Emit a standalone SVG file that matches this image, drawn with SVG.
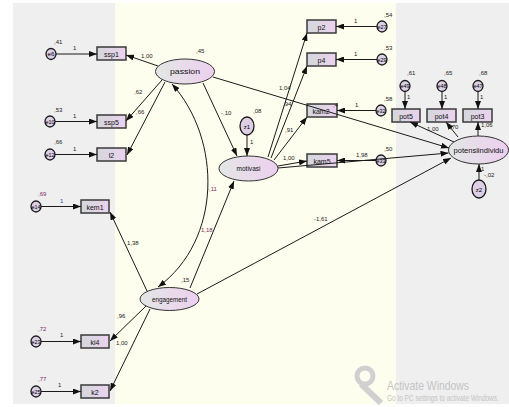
<svg xmlns="http://www.w3.org/2000/svg" width="509" height="407" viewBox="0 0 509 407">
<defs>
<linearGradient id="gBox" x1="0" x2="1" y1="0" y2="0"><stop offset="0" stop-color="#d4d7dc"/><stop offset="1" stop-color="#ebd2ee"/></linearGradient>
<linearGradient id="gEll" x1="0" x2="1" y1="0" y2="0"><stop offset="0" stop-color="#e3e7e5"/><stop offset="1" stop-color="#edcfef"/></linearGradient>
<marker id="ah" markerUnits="userSpaceOnUse" markerWidth="8" markerHeight="6" refX="8" refY="3" orient="auto-start-reverse"><path d="M0,0 L8,3 L0,6 z" fill="#111"/></marker>
<style>
.box{fill:url(#gBox);stroke:#3a3a3a;stroke-width:1.5}
.ell{fill:url(#gEll);stroke:#333;stroke-width:1}
.err{fill:#dccfe6;stroke:#1a1a1a;stroke-width:1.3}
.c{fill:none;stroke:#1a1a1a;stroke-width:1;marker-end:url(#ah)}
.t{font-family:"Liberation Sans",Arial,sans-serif;font-size:7px;fill:#111;text-anchor:middle}
.et{font-family:"Liberation Sans",Arial,sans-serif;font-size:6px;fill:#000;text-anchor:middle}
.n{font-family:"Liberation Sans",Arial,sans-serif;font-size:6px;fill:#222}
.m{fill:#7a2a5e}
.b{fill:#2a48a8}
.w{font-family:"Liberation Sans",Arial,sans-serif;fill:#c4c4c4}
</style>
</defs>
<rect x="0" y="0" width="509" height="407" fill="#ffffff"/>
<rect x="13" y="3" width="102" height="401" fill="#efefef"/>
<rect x="115" y="3" width="281" height="401" fill="#fefeee"/>
<rect x="396" y="3" width="113" height="401" fill="#efefef"/>

<g id="watermark">
<circle cx="365" cy="376" r="8" fill="none" stroke="#d0d0d0" stroke-width="5"/>
<path d="M361,384 L381,403" stroke="#d0d0d0" stroke-width="6" fill="none"/>
<text class="w" transform="translate(387,390) scale(0.8,1)" font-size="13">Activate Windows</text>
<text class="w" transform="translate(387,401) scale(0.72,1)" font-size="9">Go to PC settings to activate Windows.</text>
</g>

<g id="ssp1"><rect class="box" x="97" y="47" width="29" height="13"/><text class="t" x="111.5" y="56.5">ssp1</text></g>
<g id="ssp5"><rect class="box" x="97" y="115" width="29" height="13"/><text class="t" x="111.5" y="124.5">ssp5</text></g>
<g id="l2"><rect class="box" x="97" y="148" width="29" height="13"/><text class="t" x="111.5" y="157.5">l2</text></g>
<g id="kem1"><rect class="box" x="81" y="200" width="28" height="13"/><text class="t" x="95" y="209.5">kem1</text></g>
<g id="ki4"><rect class="box" x="81" y="335" width="28" height="13"/><text class="t" x="95" y="344.5">ki4</text></g>
<g id="k2"><rect class="box" x="81" y="385" width="28" height="13"/><text class="t" x="95" y="394.5">k2</text></g>
<g id="p2"><rect class="box" x="307" y="20" width="29" height="13"/><text class="t" x="321.5" y="29.5">p2</text></g>
<g id="p4"><rect class="box" x="307" y="53" width="29" height="13"/><text class="t" x="321.5" y="62.5">p4</text></g>
<g id="kam2"><rect class="box" x="307" y="104" width="30" height="13"/><text class="t" x="321" y="113.5">kam2</text></g>
<g id="kam5"><rect class="box" x="307" y="154" width="30" height="13"/><text class="t" x="322" y="163.5">kam5</text></g>
<g id="pot5"><rect class="box" x="392" y="109" width="28" height="13"/><text class="t" x="406" y="118.5">pot5</text></g>
<g id="pot4"><rect class="box" x="427" y="109" width="29" height="13"/><text class="t" x="441.5" y="118.5">pot4</text></g>
<g id="pot3"><rect class="box" x="463" y="109" width="29" height="13"/><text class="t" x="477.5" y="118.5">pot3</text></g>

<g id="passion"><ellipse class="ell" cx="185" cy="71.5" rx="29.5" ry="12.5"/><text class="t" x="185" y="74" font-size="8" textLength="30" lengthAdjust="spacingAndGlyphs">passion</text></g>
<g id="motivasi"><ellipse class="ell" cx="248.5" cy="168.5" rx="29.5" ry="12.5"/><text class="t" x="248.5" y="171" font-size="8" textLength="24" lengthAdjust="spacingAndGlyphs">motivasi</text></g>
<g id="engagement"><ellipse class="ell" cx="169.5" cy="299" rx="29.5" ry="11.5"/><text class="t" x="169.5" y="301.5" font-size="8" textLength="35" lengthAdjust="spacingAndGlyphs">engagement</text></g>
<g id="potensiindividu"><ellipse class="ell" cx="478.5" cy="150" rx="30" ry="14"/><text class="t" x="478.5" y="152.5" font-size="8" textLength="50" lengthAdjust="spacingAndGlyphs">potensiindividu</text></g>

<g id="z1"><ellipse class="err" cx="247" cy="126" rx="7" ry="9"/><text class="et" x="247" y="128.5" font-size="7">z1</text></g>
<g id="z2"><ellipse class="err" cx="479" cy="189" rx="7" ry="9"/><text class="et" x="479" y="191.5" font-size="7">z2</text></g>

<g id="e6"><ellipse class="err" cx="51" cy="54" rx="5" ry="5.5"/><text class="et" x="51" y="56" textLength="7" lengthAdjust="spacingAndGlyphs">e6</text></g>
<g id="e10"><ellipse class="err" cx="50" cy="121.5" rx="5" ry="5.5"/><text class="et" x="50" y="123.5" textLength="9" lengthAdjust="spacingAndGlyphs">e10</text></g>
<g id="e12"><ellipse class="err" cx="50" cy="154.5" rx="5" ry="5.5"/><text class="et" x="50" y="156.5" textLength="9" lengthAdjust="spacingAndGlyphs">e12</text></g>
<g id="e14"><ellipse class="err" cx="36" cy="206.5" rx="5" ry="5.5"/><text class="et" x="36" y="208.5" textLength="9" lengthAdjust="spacingAndGlyphs">e14</text></g>
<g id="e23"><ellipse class="err" cx="36" cy="341.5" rx="5" ry="5.5"/><text class="et" x="36" y="343.5" textLength="9" lengthAdjust="spacingAndGlyphs">e23</text></g>
<g id="e25"><ellipse class="err" cx="36" cy="391.5" rx="5" ry="5.5"/><text class="et" x="36" y="393.5" textLength="9" lengthAdjust="spacingAndGlyphs">e25</text></g>
<g id="e27"><ellipse class="err" cx="382" cy="26.5" rx="5" ry="5.5"/><text class="et" x="382" y="28.5" textLength="9" lengthAdjust="spacingAndGlyphs">e27</text></g>
<g id="e29"><ellipse class="err" cx="382" cy="59.5" rx="5" ry="5.5"/><text class="et" x="382" y="61.5" textLength="9" lengthAdjust="spacingAndGlyphs">e29</text></g>
<g id="e32"><ellipse class="err" cx="381" cy="110.5" rx="5" ry="5.5"/><text class="et" x="381" y="112.5" textLength="9" lengthAdjust="spacingAndGlyphs">e32</text></g>
<g id="e33"><ellipse class="err" cx="381" cy="160.5" rx="5" ry="5.5"/><text class="et" x="381" y="162.5" textLength="9" lengthAdjust="spacingAndGlyphs">e33</text></g>
<g id="e49"><ellipse class="err" cx="405" cy="86" rx="5" ry="5.5"/><text class="et" x="405" y="88" textLength="9" lengthAdjust="spacingAndGlyphs">e49</text></g>
<g id="e48"><ellipse class="err" cx="442" cy="86" rx="5" ry="5.5"/><text class="et" x="442" y="88" textLength="9" lengthAdjust="spacingAndGlyphs">e48</text></g>
<g id="e47"><ellipse class="err" cx="478" cy="86" rx="5" ry="5.5"/><text class="et" x="478" y="88" textLength="9" lengthAdjust="spacingAndGlyphs">e47</text></g>

<g id="connectors">
<line class="c" x1="56" y1="54" x2="97" y2="54"/>
<line class="c" x1="55" y1="121.5" x2="97" y2="121.5"/>
<line class="c" x1="55" y1="154.5" x2="97" y2="154.5"/>
<line class="c" x1="41" y1="206.5" x2="81" y2="206.5"/>
<line class="c" x1="41" y1="341.5" x2="81" y2="341.5"/>
<line class="c" x1="41" y1="391.5" x2="81" y2="391.5"/>
<line class="c" x1="377" y1="26.5" x2="336" y2="26.5"/>
<line class="c" x1="377" y1="59.5" x2="336" y2="59.5"/>
<line class="c" x1="376" y1="110.5" x2="337" y2="110.5"/>
<line class="c" x1="376" y1="160.5" x2="337" y2="160.5"/>
<line class="c" x1="405" y1="91.5" x2="405" y2="109"/>
<line class="c" x1="442" y1="91.5" x2="442" y2="109"/>
<line class="c" x1="478" y1="91.5" x2="478" y2="109"/>
<line class="c" x1="247" y1="135" x2="247" y2="156"/>
<line class="c" x1="479" y1="180" x2="479" y2="164"/>

<line class="c" x1="158" y1="66" x2="126" y2="55"/>
<line class="c" x1="162" y1="80" x2="126" y2="121"/>
<line class="c" x1="165" y1="82" x2="127" y2="155"/>
<line class="c" x1="203" y1="83" x2="237" y2="156"/>
<line class="c" x1="213" y1="77" x2="449" y2="148"/>
<line class="c" x1="268" y1="157" x2="307" y2="33"/>
<line class="c" x1="271" y1="158" x2="307" y2="66"/>
<line class="c" x1="274" y1="160" x2="307" y2="117"/>
<line class="c" x1="278" y1="166" x2="307" y2="161"/>
<line class="c" x1="278" y1="168" x2="448.5" y2="153"/>
<line class="c" x1="147" y1="291" x2="110" y2="212"/>
<line class="c" x1="146" y1="306" x2="110" y2="341"/>
<line class="c" x1="150" y1="309" x2="110" y2="391"/>
<line class="c" x1="190" y1="288" x2="234" y2="181"/>
<line class="c" x1="197" y1="294" x2="451" y2="158"/>
<line class="c" x1="454" y1="142" x2="410" y2="122"/>
<line class="c" x1="458" y1="137" x2="446" y2="122"/>
<line class="c" x1="478" y1="136" x2="478" y2="122"/>
<path class="c" d="M172,84 C222,140 222,240 158,287" style="marker-start:url(#ah)"/>

<text class="n" x="54" y="44">,41</text>
<text class="n" x="54" y="112">,53</text>
<text class="n" x="54" y="144">,66</text>
<text class="n" x="73" y="50">1</text>
<text class="n" x="73" y="118">1</text>
<text class="n" x="73" y="151">1</text>
<text class="n" x="141" y="58">1,00</text>
<text class="n" x="134" y="94">,62</text>
<text class="n" x="136" y="114">,66</text>
<text class="n" x="196" y="53">,45</text>
<text class="n" x="221" y="115">-,10</text>
<text class="n" x="253" y="113">,08</text>
<text class="n" x="250" y="144">1</text>
<text class="n" x="279" y="90">1,04</text>
<text class="n" x="283" y="106">,94</text>
<text class="n" x="285" y="132">,91</text>
<text class="n" x="283" y="160">1,00</text>
<text class="n" x="333" y="107">,4</text>
<text class="n" x="384" y="17">,54</text>
<text class="n" x="384" y="50">,53</text>
<text class="n" x="384" y="101">,58</text>
<text class="n" x="384" y="151">,50</text>
<text class="n" x="354" y="23">1</text>
<text class="n" x="354" y="56">1</text>
<text class="n" x="355" y="107">1</text>
<text class="n" x="356" y="157">1,98</text>
<text class="n" x="407" y="75">,61</text>
<text class="n" x="444" y="75">,65</text>
<text class="n" x="479" y="75">,68</text>
<text class="n" x="407" y="99">1</text>
<text class="n" x="444" y="99">1</text>
<text class="n" x="480" y="99">1</text>
<text class="n" x="427" y="131">1,00</text>
<text class="n" x="450" y="129">,70</text>
<text class="n" x="481" y="127">1,06</text>
<text class="n" x="481" y="171">1</text>
<text class="n" x="484" y="177">-,02</text>
<text class="n m" x="38" y="196">,69</text>
<text class="n b" x="60" y="203">1</text>
<text class="n" x="127" y="245">1,38</text>
<text class="n m" x="38" y="331">,72</text>
<text class="n" x="60" y="337">1</text>
<text class="n m" x="38" y="381">,77</text>
<text class="n" x="58" y="387">1</text>
<text class="n" x="117" y="318">,96</text>
<text class="n" x="116" y="345">1,00</text>
<text class="n" x="181" y="282">,15</text>
<text class="n m" x="201" y="232">1,18</text>
<text class="n m" x="207" y="191">-,11</text>
<text class="n" x="314" y="221">-1,61</text>
</g>
</svg>
